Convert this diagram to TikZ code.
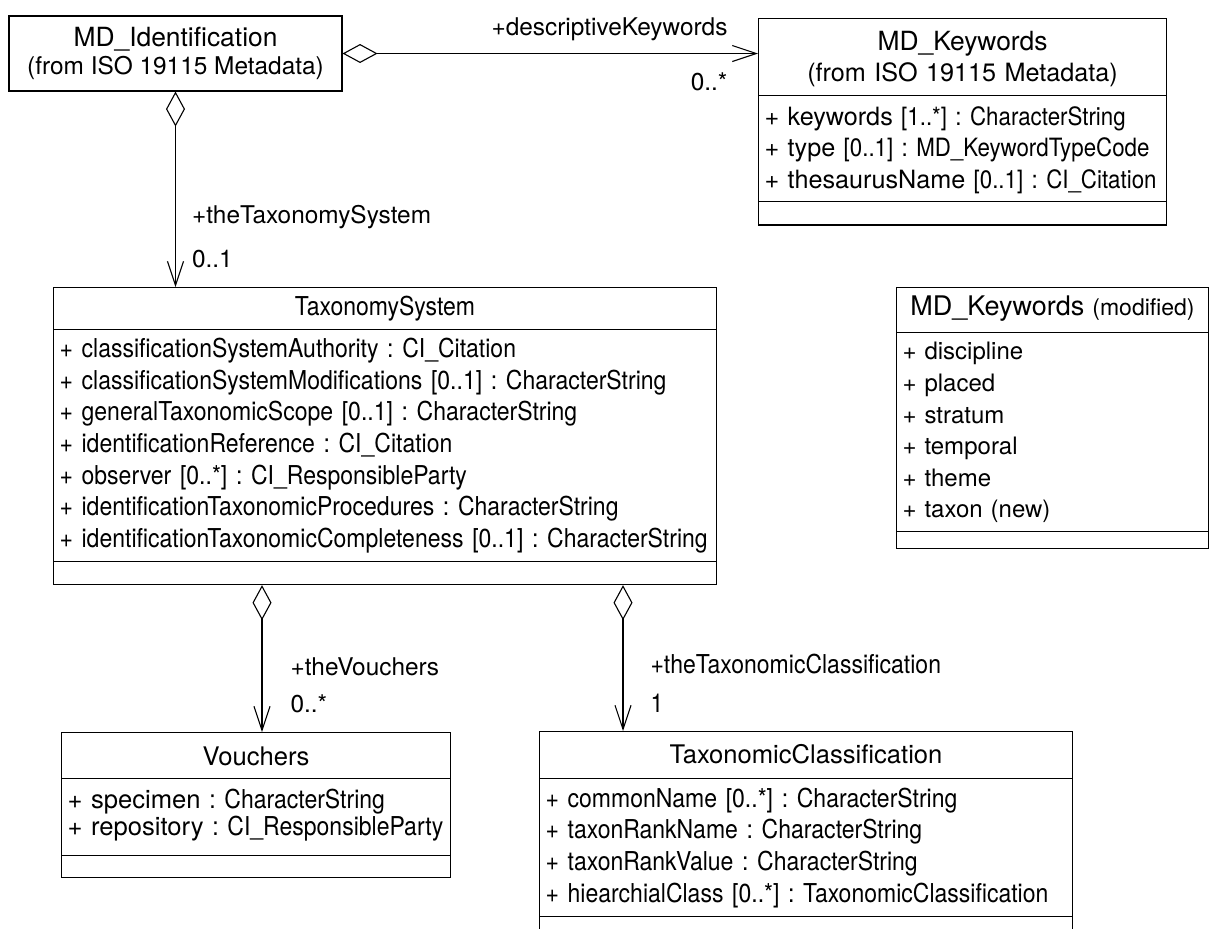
\documentclass[tikz,border=0pt]{standalone}
\usepackage{fontspec}
\setmainfont{TeX Gyre Heros}
\newfontfamily\narrow[FakeStretch=0.885]{TeX Gyre Heros}
\usetikzlibrary{arrows.meta, positioning, shapes.multipart, calc}
\frenchspacing
\newcommand{\classtitle}[1]{\hbox to\hsize{\hss#1\hss}}

\begin{document}
\begin{tikzpicture}[
    x=0.5pt, y=-0.5pt,
    line width=0.55pt,
    font=\fontsize{12.2}{14}\selectfont,
    umlclass/.style={rectangle split, rectangle split parts=3, draw, anchor=north west,
      inner xsep=3pt, inner ysep=4pt, align=left,
      font=\fontsize{13}{15.8}\selectfont\narrow},
    plainclass/.style={rectangle, draw, align=center, inner sep=0pt},
    assoc/.style={{Diamond[open, length=17.5pt, width=9.5pt]}-{Straight Barb[length=12pt, width=8pt]}},
    role/.style={inner sep=0pt, anchor=west},
  ]
  \useasboundingbox (0,0) rectangle (1210,928);

  % classes
  \node[plainclass, minimum width=166.5pt, minimum height=37.5pt] (ident) at (175.5,53.5)
    {{\fontsize{13.2}{14}\selectfont MD\_Identification}\\(from ISO 19115 Metadata)};

  \node[umlclass, text width=198pt, font=\fontsize{12.6}{15.75}\selectfont\narrow] (kw) at (758,18)
    {\rmfamily\classtitle{\rule{0pt}{11.5pt}{\fontsize{13.2}{16}\selectfont MD\_Keywords}}
     \classtitle{(from ISO 19115 Metadata)}
     \nodepart{two}\rule{0pt}{10.5pt}{\rmfamily + keywords} [1..*] : CharacterString\\
     {\rmfamily + type} [0..1] : MD\_KeywordTypeCode\\
     {\rmfamily + thesaurusName} [0..1] : CI\_Citation
     \nodepart{three}\rule{0pt}{3pt}};

  \node[umlclass, text width=325.5pt] (ts) at (53,287)
    {\classtitle{TaxonomySystem}
     \nodepart{two}+ classificationSystemAuthority : CI\_Citation\\
     + classificationSystemModifications [0..1] : CharacterString\\
     + generalTaxonomicScope [0..1] : CharacterString\\
     + identificationReference : CI\_Citation\\
     + observer [0..*] : CI\_ResponsibleParty\\
     + identificationTaxonomicProcedures : CharacterString\\
     + identificationTaxonomicCompleteness [0..1] : CharacterString
     \nodepart{three}\rule{0pt}{3pt}};

  \node[umlclass, text width=150pt, font=\fontsize{12}{15.8}\selectfont] (kwmod) at (896,287)
    {\classtitle{{\fontsize{13.5}{16}\selectfont MD\_Keywords} {\fontsize{11.5}{16}\selectfont(modified)}\rule[-4pt]{0pt}{10pt}}
     \nodepart{two}\rule{0pt}{9.5pt}+ discipline\\
     + placed\\
     + stratum\\
     + temporal\\
     + theme\\
     + taxon (new)
     \nodepart{three}};

  \node[umlclass, text width=188.5pt, font=\fontsize{13}{13.5}\selectfont\narrow] (vch) at (61,732)
    {\classtitle{\rule[-2.5pt]{0pt}{14.5pt}{\rmfamily\fontsize{12.8}{16}\selectfont Vouchers}}
     \nodepart{two}\rule{0pt}{10.5pt}{\rmfamily\fontsize{12.8}{13.5}\selectfont + specimen} : CharacterString\\
     {\rmfamily\fontsize{12.8}{13.5}\selectfont + repository} : CI\_ResponsibleParty\rule[-6pt]{0pt}{6pt}
     \nodepart{three}\rule{0pt}{2.5pt}};

  \node[umlclass, text width=260.5pt] (txc) at (539,731)
    {\classtitle{\rule[-3.5pt]{0pt}{15pt}{\rmfamily\fontsize{12.8}{16}\selectfont TaxonomicClassification}}
     \nodepart{two}\rule{0pt}{10pt}+ commonName [0..*] : CharacterString\\
     + taxonRankName : CharacterString\\
     + taxonRankValue : CharacterString\\
     + hiearchialClass [0..*] : TaxonomicClassification
     \nodepart{three}};

  % aggregations
  \coordinate (tsv) at ($(ts.south west)+(209,0)$);
  \coordinate (tst) at ($(ts.south west)+(570,0)$);

  \draw[assoc] (ident.east) -- (ident.east -| kw.west)
    node[pos=1, anchor=south east, xshift=-15pt, yshift=6pt, inner sep=0pt] {+descriptiveKeywords}
    node[pos=1, anchor=north east, xshift=-15pt, yshift=-9.5pt, inner sep=0pt] {0..*};
  \draw[assoc] (ident.south) -- (ident.south |- ts.north)
    node[role, pos=0.64, xshift=8pt] {+theTaxonomySystem}
    node[role, pos=0.856, xshift=8pt] {0..1};
  \draw[assoc] (tsv) -- (tsv |- vch.north)
    node[role, pos=0.553, xshift=14pt] {+theVouchers}
    node[role, pos=0.807, xshift=14pt] {0..*};
  \draw[assoc] (tst) -- (tst |- txc.north)
    node[role, pos=0.544, xshift=13.5pt, font=\fontsize{13}{14}\selectfont\narrow] {+theTaxonomicClassification}
    node[role, pos=0.81, xshift=13.5pt, font=\fontsize{13}{14}\selectfont\narrow] {1};
\end{tikzpicture}
\end{document}
